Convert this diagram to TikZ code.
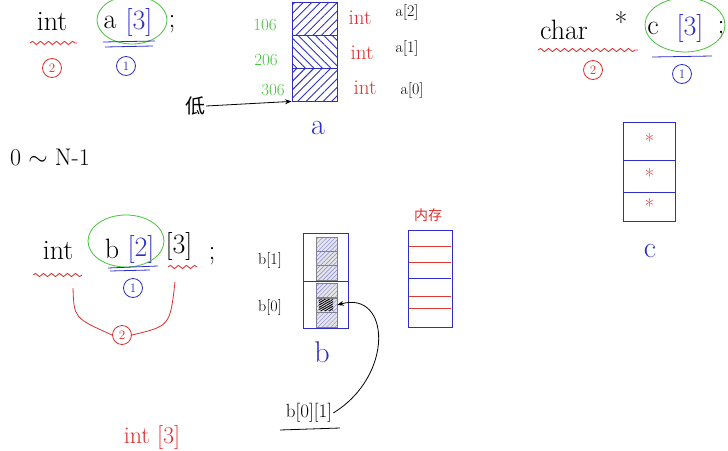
\documentclass[tikz,border=0pt]{standalone}
\usepackage{fontspec}
\newfontfamily\cjk{Noto Sans CJK SC}
\usetikzlibrary{positioning,arrows.meta,calc,patterns.meta,decorations.pathmorphing,shapes.geometric}
\definecolor{inkred}{RGB}{225,45,45}
\definecolor{inkblue}{RGB}{45,45,200}
\definecolor{inkgreen}{RGB}{70,195,60}

\tikzset{
  code/.style={font=\fontsize{28}{30}\selectfont, inner sep=1pt},
  idx/.style={code, text=inkblue},
  typ/.style={font=\fontsize{21}{23}\selectfont, text=inkred, inner sep=1pt},
  lbl/.style={font=\fontsize{16}{18}\selectfont, inner sep=1pt},
  addr/.style={lbl, font=\fontsize{17}{19}\selectfont, text=inkgreen},
  wavy/.style={inkred, thick, decorate, decoration={snake, amplitude=1.6pt, segment length=8pt}},
  numone/.style={circle, draw=inkblue, text=inkblue, thick, inner sep=0pt, minimum size=19pt, font=\fontsize{13}{14}\selectfont},
  numtwo/.style={numone, draw=inkred, text=inkred},
  pick/.style={draw=inkgreen, thick},
  uline/.style={draw=inkblue, thick},
  memline/.style={fill=inkred!85!brown},
  acell/.style={draw=inkblue, thick, minimum width=45pt, minimum height=33pt, inner sep=0pt,
    pattern={Lines[angle=45,distance=6pt,line width=0.9pt]}, pattern color=inkblue},
  bhalf/.style={draw=inkblue, thick, minimum width=45pt, minimum height=47pt, inner sep=0pt},
  bcell/.style={draw=gray, fill=gray!20, minimum width=21pt, minimum height=14.3pt, inner sep=0pt,
    postaction={pattern={Lines[angle=45,distance=3pt,line width=0.4pt]}, pattern color=inkblue!60}},
  ccell/.style={draw=inkblue, thick, minimum width=52pt, inner sep=0pt, text=inkred, font=\fontsize{20}{20}\selectfont},
  capital/.style={idx, font=\fontsize{30}{32}\selectfont}
}

\begin{document}
\begin{tikzpicture}[x=1pt,y=-1pt]
\useasboundingbox (0,0) rectangle (728,450);

% memory
\node[font=\cjk\fontsize{14}{16}\selectfont, text=inkred] (memT) at (428,215) {内存};
\coordinate (memNW) at (408,230);
\coordinate (memSE) at (452,327);
\fill[memline] (409,245.6) rectangle (451,246.4);
\fill[memline] (409,261.6) rectangle (451,262.4);
\fill[memline, fill=inkblue] (409,277.6) rectangle (451,278.4);
\fill[memline] (409,295.6) rectangle (451,296.4);
\fill[memline] (409,307.6) rectangle (451,308.4);
\draw[draw=inkblue, thick] (memNW) rectangle (memSE);

% int a[3];
\node[code] (intA) at (52,22) {int};
\draw[wavy] (30,43) -- (77,43);
\node[numtwo] (twoA) at (52,68) {2};
\node[code] (nameA) at (110,22) {a};
\node[idx] (idxA) at (139,22) {[3]};
\node[code] (semiA) at (172,24) {;};
\draw[pick] (132,20) ellipse (35 and 24);
\draw[uline] (103,42) -- (155,41) (105,47) -- (153,46);
\node[numone] (oneA) at (126,66) {1};

% char * c[3];
\node[code] (charC) at (564,30) {char};
\draw[wavy] (538,50) -- (638,50);
\node[code] (starC) at (621,22) {*};
\node[code] (nameC) at (653,28) {c};
\node[idx] (idxC) at (690,28) {[3]};
\node[code] (semiC) at (721,30) {;};
\draw[pick] (685,25) ellipse (40 and 27);
\draw[uline] (652,57) -- (712,56);
\node[numtwo] (twoC) at (593,70) {2};
\node[numone] (oneC) at (682,74) {1};

% array c
\node[ccell, minimum height=38pt] (c2) at (649.5,141) {*};
\node[ccell, minimum height=32pt] (c1) at (649.5,176) {*};
\node[ccell, minimum height=29pt] (c0) at (649.5,206.5) {*};
\node[capital] (capC) at (650,251) {c};

\node[font=\fontsize{24}{26}\selectfont] (range) at (50,157) {0 $\sim$ N-1};

% int b[2][3];
\node[code] (intB) at (58,251) {int};
\draw[wavy] (33,275) -- (82,275);
\node[code] (nameB) at (112,249) {b};
\node[idx] (idxB) at (141,249) {[2]};
\node[code] (dimB) at (179,246) {[3]};
\node[code] (semiB) at (212,256) {;};
\draw[pick] (126,241) ellipse (38 and 26);
\draw[uline] (108,268) -- (158,266) (110,271) -- (150,270);
\draw[wavy] (168,267) -- (197,267);
\node[numone] (oneB) at (133,288) {1};
\node[numtwo] (twoB) at (122,335) {2};
\draw[inkred, thick] (73,288) .. controls (74,318) .. (twoB.west);
\draw[inkred, thick] (twoB.east) .. controls (170,326) .. (175,282);
\node[typ, font=\fontsize{24}{26}\selectfont] (intThree) at (152,437) {int [3]};

% array a
\node[acell] (a2) at (314.5,18.5) {};
\node[acell, pattern={Lines[angle=-45,distance=6pt,line width=0.9pt]}] (a1) at (314.5,51.5) {};
\node[acell] (a0) at (314.5,84.5) {};
\node[addr] (ad1) at (265,25) {106};
\node[addr] (ad2) at (266,60) {206};
\node[addr] (ad3) at (273,90) {306};
\node[typ] (ta2) at (360,18) {int};
\node[typ] (ta1) at (362,53) {int};
\node[typ] (ta0) at (365,88) {int};
\node[lbl] (la2) at (407,12) {a[2]};
\node[lbl] (la1) at (407,48) {a[1]};
\node[lbl] (la0) at (412,90) {a[0]};
\node[font=\cjk\fontsize{20}{22}\selectfont, inner sep=1pt] (low) at (195,106) {低};
\draw[-{Stealth}, thick, draw=black] (low.east) -- (a0.south west);
\node[capital] (capA) at (318,128) {a};

% array b
\node[bhalf, minimum height=48pt] (bTop) at (325.5,257) {};
\node[bhalf] (bBot) at (325.5,304.5) {};
\foreach \k/\yy in {0/244.2,1/258.5,2/272.8}
  \node[bcell] (b1c\k) at (326.5,\yy) {};
\foreach \k/\yy in {0/290.3,1/305,2/319.7}
  \node[bcell] (b0c\k) at (326.5,\yy) {};
\fill[pattern={Lines[angle=30,distance=2pt,line width=0.9pt]}, pattern color=black] ($(b0c1.south west)+(3,-2)$) rectangle ($(b0c1.north east)+(-4,2)$);
\node[lbl] (lb1) at (270,260) {b[1]};
\node[lbl] (lb0) at (270,307) {b[0]};
\node[capital] (capB) at (322,352) {b};
\node[lbl, font=\fontsize{19}{21}\selectfont] (b01) at (309,413) {b[0][1]};
\draw[thick, draw=black] (280,430) -- (340,428);
\draw[-{Stealth}, thick, draw=black] (b01.east) .. controls (395,375) and (390,290) .. (b0c1.east);
\end{tikzpicture}
\end{document}
